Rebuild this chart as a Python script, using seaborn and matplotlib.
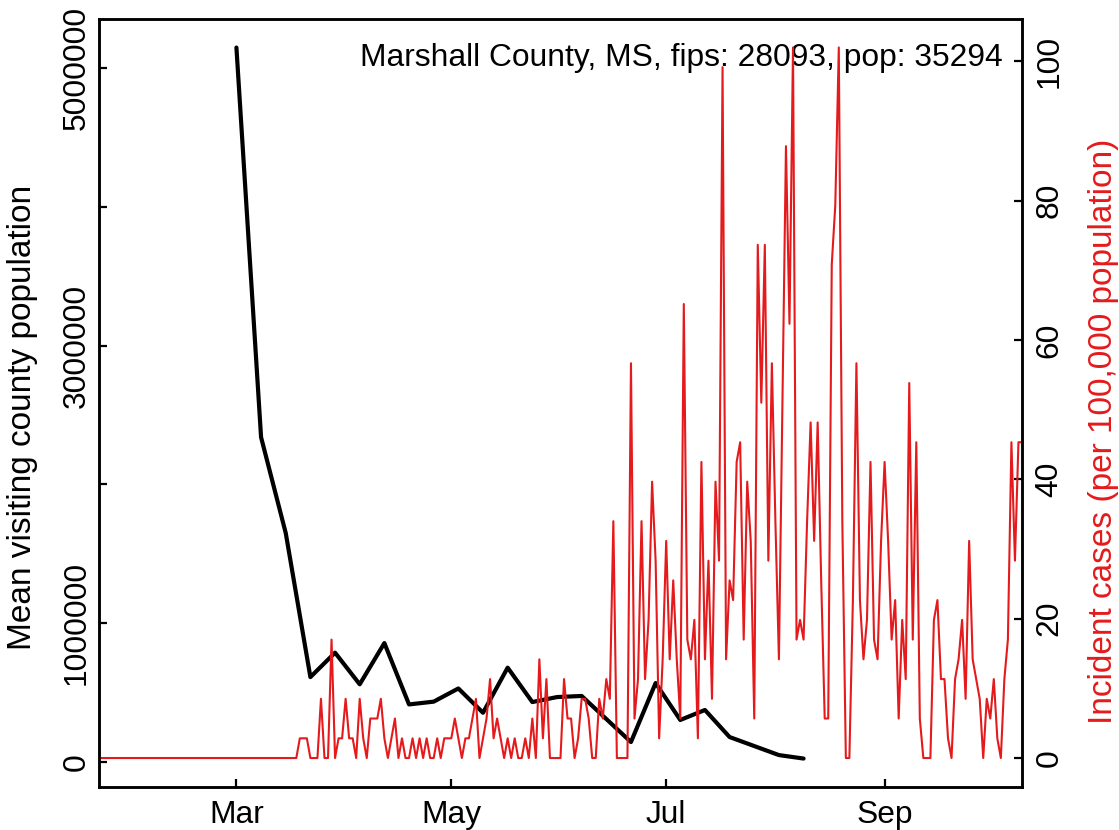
import matplotlib
matplotlib.use("Agg")
import matplotlib.pyplot as plt
import matplotlib.dates as mdates
import pandas as pd
import seaborn as sns

RED = "#E41A1C"

COUNTY_LABEL = "Marshall County, MS, fips: 28093, pop: 35294"
LEFT_LABEL   = "Mean visiting county population"
RIGHT_LABEL  = "Incident cases (per 100,000 population)"

# weekly mean visiting population (starts 2020-03-01)
WEEK_START = "2020-03-01"
visitors = [5148000, 2340000, 1650000, 612000, 788000, 560000, 857000, 415000,
            435000, 530000, 355000, 680000, 432000, 468000, 476000, 310000,
            144000, 569000, 303000, 375000, 180000, 115000, 50000, 25000]

# daily incident cases per 100k (starts 2020-01-22)
CASE_START = "2020-01-22"
incidence = [
    0, 0, 0, 0, 0, 0, 0, 0, 0, 0, 0, 0, 0, 0, 0, 0, 0, 0, 0, 0,
    0, 0, 0, 0, 0, 0, 0, 0, 0, 0, 0, 0, 0, 0, 0, 0, 0, 0, 0, 0,
    0, 0, 0, 0, 0, 0, 0, 0, 0, 0, 0, 0, 0, 0, 0, 0,
    0, 2.83, 2.83, 2.83, 0, 0, 0, 8.50, 0, 0,
    17.00, 0, 2.83, 2.83, 8.50, 2.83, 2.83, 0, 8.50, 2.83,
    0, 5.67, 5.67, 5.67, 8.50, 2.83, 0, 2.83, 5.67, 0,
    2.83, 0, 0, 2.83, 0, 2.83, 0, 2.83, 0, 0,
    2.83, 0, 2.83, 2.83, 2.83, 5.67, 2.83, 0, 2.83, 2.83,
    5.67, 8.50, 0, 2.83, 5.67, 11.33, 2.83, 5.67, 2.83, 0,
    2.83, 0, 2.83, 0, 0, 2.83, 0, 5.67, 0, 14.17,
    2.83, 11.33, 0, 0, 0, 0, 11.33, 5.67, 5.67, 0,
    2.83, 8.50, 8.50, 5.67, 0, 0, 8.50, 5.67, 11.33, 8.50,
    34.00, 0, 0, 0, 0, 56.67, 5.67, 11.33, 34.00, 11.33,
    19.83, 39.67, 28.33, 2.83, 14.17, 31.17, 14.17, 25.50, 14.17, 5.67,
    65.17, 17.00, 14.17, 19.83, 2.83, 42.50, 14.17, 28.33, 8.50, 39.67,
    28.33, 99.17, 14.17, 25.50, 22.67, 42.50, 45.33, 17.00, 39.67, 31.17,
    5.67, 73.67, 51.00, 73.67, 28.33, 56.67, 34.00, 14.17, 51.00, 87.83,
    62.33, 102.00, 17.00, 19.83, 17.00, 34.00, 48.17, 31.17, 48.17, 25.50,
    5.67, 5.67, 70.83, 79.33, 102.00, 34.00, 0, 0, 22.67, 56.67,
    22.67, 14.17, 19.83, 42.50, 17.00, 14.17, 31.17, 42.50, 31.17, 17.00,
    22.67, 5.67, 19.83, 11.33, 53.83, 17.00, 45.33, 5.67, 0, 0,
    0, 19.83, 22.67, 11.33, 11.33, 2.83, 0, 11.33, 14.17, 19.83,
    8.50, 31.17, 14.17, 11.33, 8.50, 0, 8.50, 5.67, 11.33, 2.83,
    0, 11.33, 17.00, 45.33, 28.33, 45.33, 45.33,
]

LEFT_TICKS  = [0, 1000000, 2000000, 3000000, 4000000, 5000000]
LEFT_LABELS = ["0", "1000000", "", "3000000", "", "5000000"]
RIGHT_TICKS = [0, 20, 40, 60, 80, 100]

sns.set_style("ticks")
plt.rcParams["font.family"] = ["Liberation Sans", "DejaVu Sans"]
plt.rcParams["font.size"] = 22.9
plt.rcParams["text.color"] = "black"
plt.rcParams["axes.labelcolor"] = "black"
plt.rcParams["xtick.color"] = "black"
plt.rcParams["ytick.color"] = "black"

week_dates = pd.date_range(WEEK_START, periods=len(visitors), freq="7D")
case_dates = pd.date_range(CASE_START, periods=len(incidence), freq="D")

fig = plt.figure(figsize=(11.19, 8.30), dpi=100)
ax = fig.add_axes([0.0885, 0.0518, 0.8248, 0.9252])
ax2 = ax.twinx()

sns.lineplot(x=week_dates, y=visitors, ax=ax, color="black", linewidth=3.0)
sns.lineplot(x=case_dates, y=incidence, ax=ax2, color=RED, linewidth=1.5)

ax.set_xlim(case_dates[0], case_dates[-1])
ax.set_ylim(-180000, 5353000)
ax2.set_ylim(-4.16, 106.07)

ax.xaxis.set_major_locator(mdates.MonthLocator(bymonth=[3, 5, 7, 9]))
ax.xaxis.set_major_formatter(mdates.DateFormatter("%b"))

ax.set_yticks(LEFT_TICKS)
ax.set_yticklabels(LEFT_LABELS, rotation=90, va="center")
ax2.set_yticks(RIGHT_TICKS)
ax2.set_yticklabels([str(t) for t in RIGHT_TICKS], rotation=90, va="center")

for a in (ax, ax2):
    a.tick_params(direction="in", length=6, width=1.6, pad=9,
                  colors="black", labelcolor="black")
    for sp in a.spines.values():
        sp.set_visible(True)
        sp.set_linewidth(1.8)
        sp.set_color("black")
    a.set_xlabel("")
ax.tick_params(axis="y", pad=5)

ax.set_ylabel(LEFT_LABEL, color="black", fontsize=24)
ax.yaxis.set_label_coords(-0.066, 0.481)
ax2.set_ylabel(RIGHT_LABEL, color=RED, fontsize=24)
ax2.yaxis.set_label_coords(1.0715, 0.4635)

ax.text(0.979, 0.949, COUNTY_LABEL, transform=ax.transAxes,
        ha="right", va="center", color="black")

fig.savefig("out.png", dpi=100)
